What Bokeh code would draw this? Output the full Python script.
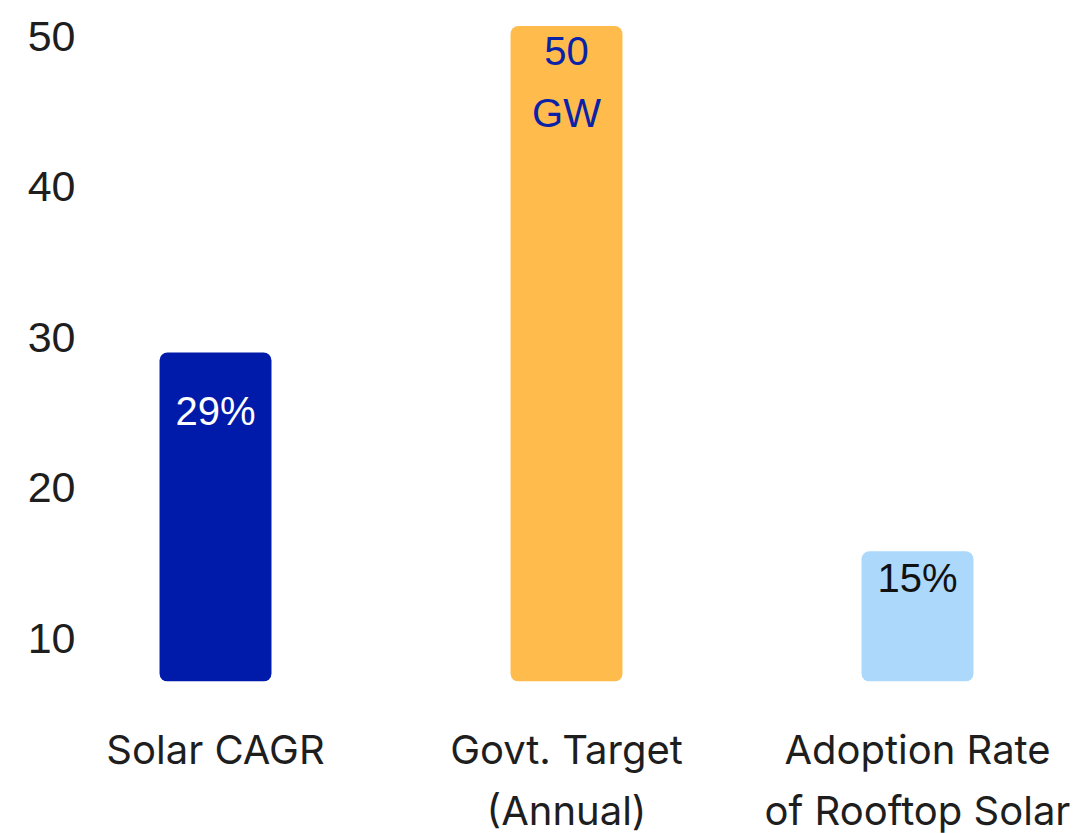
from bokeh.plotting import figure
from bokeh.models import ColumnDataSource, Range1d, FixedTicker
from bokeh.core.properties import value
from bokeh.embed import file_html
from bokeh.resources import INLINE
import numpy as np

# ---- data ----
categories = ["Solar CAGR", "Govt. Target\n(Annual)", "Adoption Rate\nof Rooftop Solar"]
values = [29, 50.7, 15.8]
bar_labels = ["29%", "50\nGW", "15%"]
y_ticks = [10, 20, 30, 40, 50]

# ---- styles ----
bar_colors = ["#001BA9", "#FFBC4D", "#ACD8FC"]
label_colors = ["#FFFFFF", "#0A22A8", "#111111"]
label_offsets = [58, 56, 27]

x = np.arange(len(categories))
src = ColumnDataSource(dict(x=x, top=values, lab=bar_labels, color=bar_colors,
                            tcolor=label_colors, yoff=label_offsets))

y0 = 7.14
p = figure(frame_width=995, frame_height=671, output_backend="svg", toolbar_location=None,
           x_range=Range1d(-0.3704, 2.4644), y_range=Range1d(y0, y0 + 671 / 15.05),
           min_border_left=85, min_border_right=0, min_border_top=10, min_border_bottom=10)

p.vbar(x="x", top="top", bottom=y0, width=0.319, color="color", line_color=None,
       border_radius=8, source=src)

p.text(x="x", y="top", text="lab", text_color="tcolor", y_offset="yoff",
       text_font=value("Liberation Sans"), text_font_size="40px",
       text_align="center", text_baseline="middle", text_line_height=1.40, source=src)

p.xgrid.visible = False
p.ygrid.visible = False
p.outline_line_color = None
p.background_fill_color = "white"

ya = p.yaxis[0]
ya.ticker = FixedTicker(ticks=y_ticks)
ya.axis_line_color = None
ya.major_tick_line_color = None
ya.minor_tick_line_color = None
ya.major_tick_out = 0
ya.major_tick_in = 0
ya.minor_tick_out = 0
ya.major_label_standoff = 10
ya.major_label_text_font = "Liberation Sans"
ya.major_label_text_font_size = "43px"
ya.major_label_text_color = "#1E1E1E"

xa = p.xaxis[0]
xa.ticker = FixedTicker(ticks=list(x))
xa.major_label_overrides = {int(i): c for i, c in zip(x, categories)}
xa.axis_line_color = None
xa.major_tick_line_color = None
xa.minor_tick_line_color = None
xa.major_tick_out = 0
xa.major_tick_in = 0
xa.minor_tick_out = 0
xa.major_label_standoff = 43
xa.major_label_text_font = "Inter"
xa.major_label_text_font_size = "40px"
xa.major_label_text_line_height = 1.25
xa.major_label_text_color = "#1E1E1E"

open("out.html", "w").write(file_html(p, INLINE))
